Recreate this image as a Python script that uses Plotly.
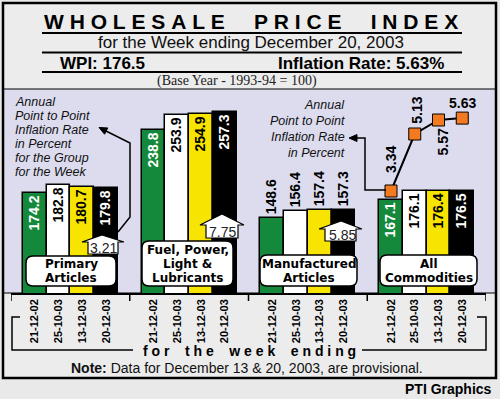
import math
import plotly.graph_objects as go

# ---------------- data ----------------
groups = ["Primary Articles", "Fuel, Power, Light & Lubricants",
          "Manufactured Articles", "All Commodities"]
group_label_lines = [["Primary", "Articles"],
                     ["Fuel, Power,", "Light &", "Lubricants"],
                     ["Manufactured", "Articles"],
                     ["All", "Commodities"]]
weeks = ["21-12-02", "25-10-03", "13-12-03", "20-12-03"]
index_21_12_02 = [174.2, 238.8, 148.6, 167.1]
index_25_10_03 = [182.8, 253.9, 156.4, 176.1]
index_13_12_03 = [180.7, 254.9, 157.4, 176.4]
index_20_12_03 = [179.8, 257.3, 157.3, 176.5]
series = [index_21_12_02, index_25_10_03, index_13_12_03, index_20_12_03]
group_inflation = [3.21, 7.75, 5.85]          # Primary, Fuel, Manufactured
all_commodities_inflation = [3.34, 5.13, 5.57, 5.63]
wpi = 176.5
inflation_rate = 5.63

# ---------------- style ----------------
bar_colors = ["#15893b", "#ffffff", "#f7e400", "#000000"]
inside_text_colors = ["white", "black", "black", "white"]
ORANGE = "#f47a20"
PANEL = "#dcdcee"
BG = "#ececec"
NB = "\u00a0"

W, H = 500, 399
ML, MR, MT, MB = 11, 14, 89, 106
PW, PH = W - ML - MR, H - MT - MB


def px(x):
    return (x - ML) / PW


def py(y):
    return (H - MB - y) / PH


fig = go.Figure()

slot = len(weeks) + 1
for w, vals in enumerate(series):
    xs = [g * slot + w for g in range(len(groups))]
    fig.add_trace(go.Bar(
        x=xs, y=vals, width=1,
        marker=dict(color=bar_colors[w], line=dict(color="black", width=1.5)),
        text=[f"{v:.1f}" for v in vals],
        textposition=["outside" if v < 160 else "inside" for v in vals],
        textangle=-90, insidetextanchor="end",
        insidetextfont=dict(color=inside_text_colors[w], size=14,
                            family="Arial", weight="bold"),
        outsidetextfont=dict(color="black", size=14, family="Arial", weight="bold"),
        cliponaxis=False, hoverinfo="skip", showlegend=False,
    ))

ac_x = [3 * slot + w for w in range(len(weeks))]
fig.add_trace(go.Scatter(
    x=ac_x, y=all_commodities_inflation, yaxis="y2",
    mode="lines+markers",
    line=dict(color="black", width=2),
    marker=dict(symbol="square", size=12, color=ORANGE,
                line=dict(color="black", width=1)),
    cliponaxis=False, hoverinfo="skip", showlegend=False,
))

tickvals = [g * slot + w for g in range(len(groups)) for w in range(len(weeks))]
ticktext = [weeks[w] for g in range(len(groups)) for w in range(len(weeks))]

shapes = []
annotations = []


def line_path(pts, color="black", width=1.5, fill=None):
    d = "M " + " L ".join(f"{px(x)},{py(y)}" for x, y in pts)
    if fill:
        d += " Z"
    shapes.append(dict(type="path", xref="paper", yref="paper", path=d,
                       line=dict(color=color, width=width),
                       fillcolor=fill if fill else "rgba(0,0,0,0)",
                       layer="above"))


def arrow_head(tip, frm, length=8, half=3.5):
    dx, dy = tip[0] - frm[0], tip[1] - frm[1]
    n = math.hypot(dx, dy)
    ux, uy = dx / n, dy / n
    bx, by = tip[0] - ux * length, tip[1] - uy * length
    p1 = (bx - uy * half, by + ux * half)
    p2 = (bx + uy * half, by - ux * half)
    line_path([tip, p1, p2], width=1, fill="black")


def rbox(x0, y0, x1, y1, r, fill="white", width=1.5):
    P = lambda x, y: f"{px(x)},{py(y)}"
    d = (f"M {P(x0 + r, y0)} L {P(x1 - r, y0)} Q {P(x1, y0)} {P(x1, y0 + r)} "
         f"L {P(x1, y1 - r)} Q {P(x1, y1)} {P(x1 - r, y1)} L {P(x0 + r, y1)} "
         f"Q {P(x0, y1)} {P(x0, y1 - r)} L {P(x0, y0 + r)} Q {P(x0, y0)} {P(x0 + r, y0)} Z")
    shapes.append(dict(type="path", xref="paper", yref="paper", path=d,
                       line=dict(color="black", width=width), fillcolor=fill,
                       layer="above"))


def ann(text, x, y, size=14, xanchor="center", color="black", family="Arial",
        italic=False, bold=False, angle=0):
    annotations.append(dict(
        text=text, x=px(x), y=py(y), xref="paper", yref="paper",
        xanchor=xanchor, yanchor="middle", showarrow=False, textangle=angle,
        font=dict(size=size, color=color, family=family,
                  style="italic" if italic else "normal",
                  weight="bold" if bold else "normal")))


# backgrounds
shapes.append(dict(type="rect", xref="paper", yref="paper",
                   x0=px(3), x1=px(496), y0=py(3), y1=py(378),
                   fillcolor=BG, line=dict(width=0), layer="below"))
shapes.append(dict(type="rect", xref="paper", yref="paper",
                   x0=px(3), x1=px(496), y0=py(89), y1=py(293),
                   fillcolor=PANEL, line=dict(color="black", width=1.2), layer="below"))
shapes.append(dict(type="rect", xref="paper", yref="paper",
                   x0=px(3), x1=px(496), y0=py(3), y1=py(378),
                   fillcolor="rgba(0,0,0,0)", line=dict(color="black", width=2.5),
                   layer="above"))

# header rules
for yy in (33, 52.5, 72):
    shapes.append(dict(type="line", xref="paper", yref="paper",
                       x0=px(42), x1=px(462), y0=py(yy), y1=py(yy),
                       line=dict(color="black", width=1.8)))

# header text
title_words = ["WHOLESALE", "PRICE", "INDEX"]
ann((NB * 5).join(NB.join(wd) for wd in title_words), 251, 21, size=21, bold=True)
ann("for the Week ending December 20, 2003", 251, 43, size=17, color="#111")
ann(f"WPI: {wpi}", 58, 63, size=17, bold=True, xanchor="left")
ann(f"Inflation Rate: {inflation_rate:.2f}%", 446, 63, size=17, bold=True,
    xanchor="right")
ann("(Base Year - 1993-94 = 100)", 237, 81, size=14, family="Times New Roman",
    color="#222")

# group separator ticks on the axis
for xs in [-1, 4, 9, 14, 19]:
    shapes.append(dict(type="line", xref="x", yref="paper", x0=xs, x1=xs,
                       y0=py(293), y1=py(301), line=dict(color="black", width=1.5)))

# group labels (rounded boxes)
label_boxes = [(26, 256, 116, 286), (142, 241, 233, 286),
               (260, 255, 357, 286), (380, 255, 477, 286)]
for (x0, y0, x1, y1), lines in zip(label_boxes, group_label_lines):
    rbox(x0, y0, x1, y1, 7)
    cx = (x0 + x1) / 2
    n = len(lines)
    for i, t in enumerate(lines):
        ann(t, cx, y1 - 8.5 - (n - 1 - i) * 14, size=12, bold=True,
            family="DejaVu Sans")

# inflation arrow-boxes for groups
pent = [((102, 235), 82, 124, 88, 118, 242, 254, (103, 248)),
        ((222, 214), 200, 244, 206, 238, 225, 238, (222, 231.5)),
        ((341, 221), 319, 362, 325, 356, 229, 241, (342, 235))]
for val, (apex, sl, sr, bl, br, ys, yb, tc) in zip(group_inflation, pent):
    line_path([apex, (sr, ys), (br, ys), (br, yb), (bl, yb), (bl, ys), (sl, ys)],
              width=1.2, fill="white")
    ann(f"{val:.2f}", tc[0], tc[1], size=14, color="#222")

# all-commodities inflation labels
lab_off = [(0, 31, -90), (2, 24, -90), (5, -22, -90), (0, 15, 0)]
for xv, yv, (dx, dy, ang) in zip(ac_x, all_commodities_inflation, lab_off):
    annotations.append(dict(text=f"{yv:.2f}", x=xv, y=yv, xref="x", yref="y2",
                            xshift=dx, yshift=dy, showarrow=False, textangle=ang,
                            font=dict(size=14, family="Arial", weight="bold",
                                      color="black")))

# left explanatory text
left_lines = ["Annual", "Point to Point", "Inflation Rate", "in Percent",
              "for the Group", "for the Week"]
for i, t in enumerate(left_lines):
    ann(t, 13, 102 + i * 14, size=12.5, italic=True, xanchor="left", color="#111")
right_lines = ["Annual", "Point to Point", "Inflation Rate", "in Percent"]
for i, t in enumerate(right_lines):
    ann(t, 347, 105 + i * 16, size=12.5, italic=True, xanchor="right", color="#111")

# connector arrows
line_path([(103, 129.5), (130, 143), (130, 217), (118, 232)], width=1.5)
arrow_head((99, 127.5), (130, 143))
line_path([(386, 190), (365, 190), (365, 138), (357, 138)], width=1.5)
arrow_head((349, 138), (365, 138))

# bracket with "for the week ending"
line_path([(20, 317), (12, 317), (12, 350), (133, 350)], width=1.5)
line_path([(362, 350), (486, 350), (486, 317), (477, 317)], width=1.5)
phrase = ["for", "the", "week", "ending"]
ann((NB * 4).join(NB.join(wd) for wd in phrase), 249, 351, size=14, bold=True)

ann("<b>Note:</b> Data for December 13 & 20, 2003, are provisional.", 247, 368,
    size=14, color="#111")
ann("PTI Graphics", 494, 389, size=14, bold=True, xanchor="right")

fig.update_layout(
    width=W, height=H,
    margin=dict(l=ML, r=MR, t=MT, b=MB, pad=0),
    paper_bgcolor="#e9e9e9", plot_bgcolor="rgba(0,0,0,0)",
    barmode="overlay", bargap=0,
    uniformtext=dict(minsize=14, mode="show"),
    xaxis=dict(range=[-1, 19], tickvals=tickvals, ticktext=ticktext,
               tickangle=-90, ticks="", showgrid=False, zeroline=False,
               showline=True, linecolor="black", linewidth=1.5,
               tickfont=dict(family="Arial", size=11, weight="bold",
                             color="black"),
               fixedrange=True),
    yaxis=dict(range=[72.2, 280.8], visible=False, fixedrange=True),
    yaxis2=dict(range=[0.136, 6.544], overlaying="y", visible=False,
                fixedrange=True),
    shapes=shapes, annotations=annotations,
    hovermode=False,
)

fig.write_html("out.html", config={"displayModeBar": False},
               post_script="document.body.style.margin='0';"
                           "document.body.style.overflow='hidden';")
